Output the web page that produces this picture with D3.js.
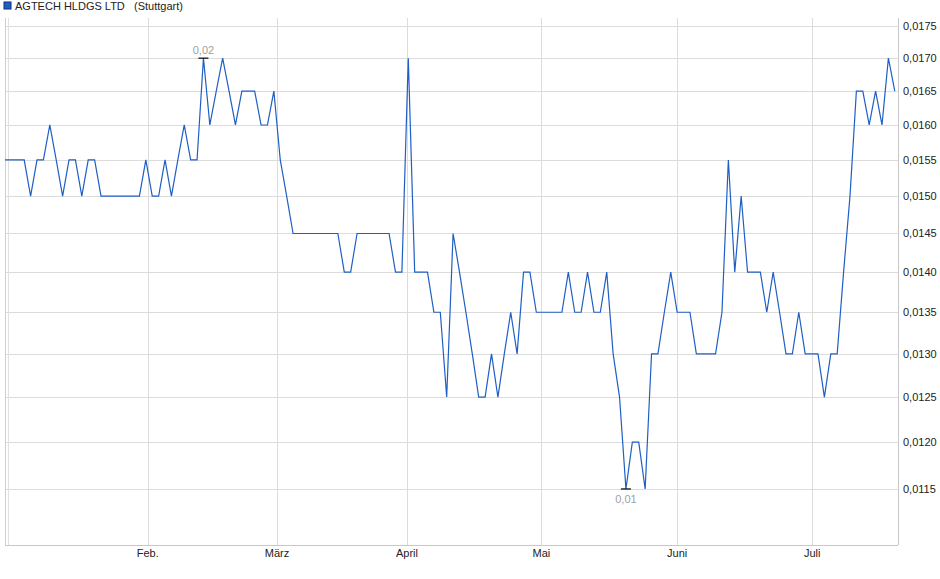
<!DOCTYPE html>
<html>
<head>
<meta charset="utf-8">
<script src="https://cdn.jsdelivr.net/npm/d3@7"></script>
<style>
body { margin: 0; background: #fff; font-family: "Liberation Sans", Arial, sans-serif; }
</style>
</head>
<body>
<div class="chart"></div>
<script>
// daily closing prices, one per trading day
const prices = [
  0.0155, 0.0155, 0.0155, 0.0155, 0.0150, 0.0155, 0.0155, 0.0160, 0.0155, 0.0150,
  0.0155, 0.0155, 0.0150, 0.0155, 0.0155, 0.0150, 0.0150, 0.0150, 0.0150, 0.0150,
  0.0150, 0.0150, 0.0155, 0.0150, 0.0150, 0.0155, 0.0150, 0.0155, 0.0160, 0.0155,
  0.0155, 0.0170, 0.0160, 0.0165, 0.0170, 0.0165, 0.0160, 0.0165, 0.0165, 0.0165,
  0.0160, 0.0160, 0.0165, 0.0155, 0.0150, 0.0145, 0.0145, 0.0145, 0.0145, 0.0145,
  0.0145, 0.0145, 0.0145, 0.0140, 0.0140, 0.0145, 0.0145, 0.0145, 0.0145, 0.0145,
  0.0145, 0.0140, 0.0140, 0.0170, 0.0140, 0.0140, 0.0140, 0.0135, 0.0135, 0.0125,
  0.0145, 0.0140, 0.0135, 0.0130, 0.0125, 0.0125, 0.0130, 0.0125, 0.0130, 0.0135,
  0.0130, 0.0140, 0.0140, 0.0135, 0.0135, 0.0135, 0.0135, 0.0135, 0.0140, 0.0135,
  0.0135, 0.0140, 0.0135, 0.0135, 0.0140, 0.0130, 0.0125, 0.0115, 0.0120, 0.0120,
  0.0115, 0.0130, 0.0130, 0.0135, 0.0140, 0.0135, 0.0135, 0.0135, 0.0130, 0.0130,
  0.0130, 0.0130, 0.0135, 0.0155, 0.0140, 0.0150, 0.0140, 0.0140, 0.0140, 0.0135,
  0.0140, 0.0135, 0.0130, 0.0130, 0.0135, 0.0130, 0.0130, 0.0130, 0.0125, 0.0130,
  0.0130, 0.0140, 0.0150, 0.0165, 0.0165, 0.0160, 0.0165, 0.0160, 0.0170, 0.0165
];
const monthLabels = ["Feb.", "März", "April", "Mai", "Juni", "Juli"];
const monthIndex = [22.3, 42.5, 62.8, 83.8, 105, 126.1];
const yTicks = [0.0115, 0.0120, 0.0125, 0.0130, 0.0135, 0.0140, 0.0145, 0.0150, 0.0155, 0.0160, 0.0165, 0.0170, 0.0175];

function chart() {
    const W = 940, H = 579;
    const pLeft = 5, pRight = 898, pTop = 5, pBottom = 545;
    const fmt = v => d3.format(".4f")(v).replace(".", ",");

    const svg = d3.select(".chart").append("svg")
        .attr("width", W).attr("height", H)
        .style("font-family", '"Liberation Sans", Arial, sans-serif');

    const x = d3.scaleLinear().domain([0, 139.5]).range([pLeft, pRight]);
    const y = d3.scaleLog().domain([0.01093, 0.01784]).range([pBottom, pTop]);

    // grid
    svg.append("g").selectAll("line").data(yTicks).enter().append("line")
        .attr("x1", pLeft).attr("x2", pRight)
        .attr("y1", d => Math.round(y(d)) + 0.5).attr("y2", d => Math.round(y(d)) + 0.5)
        .attr("stroke", "#dcdcdc");
    svg.append("g").selectAll("line").data(monthIndex).enter().append("line")
        .attr("x1", d => Math.round(x(d)) + 0.5).attr("x2", d => Math.round(x(d)) + 0.5)
        .attr("y1", pTop + 13).attr("y2", pBottom)
        .attr("stroke", "#dcdcdc");

    // frame
    svg.append("line").attr("x1", pLeft + 0.5).attr("x2", pLeft + 0.5).attr("y1", pTop + 13).attr("y2", pBottom).attr("stroke", "#d0d0d0");
    svg.append("line").attr("x1", pLeft + 3.5).attr("x2", pLeft + 3.5).attr("y1", pTop + 13).attr("y2", pBottom).attr("stroke", "#e0e0e0");
    svg.append("line").attr("x1", pRight + 0.5).attr("x2", pRight + 0.5).attr("y1", pTop + 13).attr("y2", pBottom).attr("stroke", "#c8c8c8");
    svg.append("line").attr("x1", pLeft).attr("x2", pRight).attr("y1", pBottom + 0.5).attr("y2", pBottom + 0.5).attr("stroke", "#c8c8c8");

    // y labels
    svg.append("g").selectAll("text").data(yTicks).enter().append("text")
        .attr("x", 903).attr("y", d => y(d)).attr("dy", "0.35em")
        .attr("font-size", 11).attr("fill", "#222")
        .text(fmt);

    // x labels
    svg.append("g").selectAll("text").data(monthLabels).enter().append("text")
        .attr("x", (d, i) => x(monthIndex[i])).attr("y", 557)
        .attr("text-anchor", "middle").attr("font-size", 11).attr("fill", "#222")
        .text(d => d);

    // line
    svg.append("path").datum(prices)
        .attr("fill", "none").attr("stroke", "#1f5fc4").attr("stroke-width", 1.2)
        .attr("d", d3.line().x((d, i) => x(i)).y(d => y(d)));

    // max/min markers
    const maxI = prices.indexOf(d3.max(prices));
    const minI = prices.indexOf(d3.min(prices));
    [[maxI, -1, "0,02"], [minI, 1, "0,01"]].forEach(([i, dir, label]) => {
        const px = x(i), py = y(prices[i]);
        svg.append("line").attr("x1", px - 5).attr("x2", px + 5).attr("y1", py).attr("y2", py)
            .attr("stroke", "#000").attr("stroke-width", 1.2);
        svg.append("text").attr("x", px).attr("y", dir < 0 ? py - 4 : py + 14)
            .attr("text-anchor", "middle").attr("font-size", 11).attr("fill", "#a0a0a0")
            .text(label);
    });

    // legend
    svg.append("rect").attr("x", 4).attr("y", 2).attr("width", 7).attr("height", 7)
        .attr("fill", "#1f5fc4").attr("stroke", "#0b2f7a");
    svg.append("text").attr("x", 15).attr("y", 10).attr("font-size", 11).attr("fill", "#222")
        .attr("xml:space", "preserve")
        .text("AGTECH HLDGS LTD   (Stuttgart)");
}
chart();
</script>
</body>
</html>
